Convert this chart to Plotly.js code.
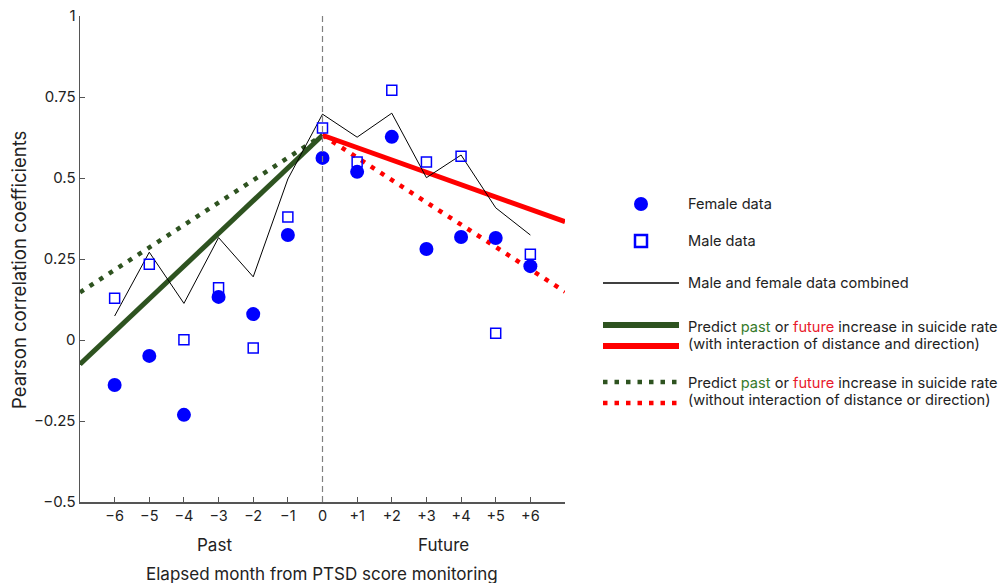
<!DOCTYPE html>
<html>
<head>
<meta charset="utf-8">
<script src="https://cdn.plot.ly/plotly-3.0.1.min.js"></script>
<style>html,body{margin:0;padding:0;background:#fff;}#chart{width:1000px;height:583px;}</style>
</head>
<body>
<div id="chart"></div>
<script>
// ---- data ----
var months = [-6, -5, -4, -3, -2, -1, 0, 1, 2, 3, 4, 5, 6];
var femaleData = [-0.139, -0.049, -0.231, 0.133, 0.080, 0.324, 0.562, 0.519, 0.627, 0.281, 0.318, 0.315, 0.228];
var maleData = [0.129, 0.234, 0.001, 0.161, -0.025, 0.380, 0.654, 0.549, 0.771, 0.549, 0.567, 0.021, 0.265];
var combinedData = [0.074, 0.271, 0.113, 0.316, 0.195, 0.497, 0.697, 0.626, 0.700, 0.501, 0.571, 0.408, 0.324];
var pastX = [-7, 0];
var futureX = [0, 7];
var pastWith = [-0.075, 0.632];
var futureWith = [0.632, 0.365];
var pastWithout = [0.147, 0.632];
var futureWithout = [0.632, 0.149];
var xTickVals = [-6, -5, -4, -3, -2, -1, 0, 1, 2, 3, 4, 5, 6, 7];
var xTickText = ['\u22126', '\u22125', '\u22124', '\u22123', '\u22122', '\u22121', '0', '+1', '+2', '+3', '+4', '+5', '+6', ''];
var yTickVals = [-0.5, -0.25, 0, 0.25, 0.5, 0.75, 1];
var yTickText = ['\u22120.5', '\u22120.25', '0', '0.25', '0.5', '0.75', '1'];

// ---- styles ----
var GREEN = '#2e5320';
var RED = '#ff0000';
var BLUE = '#0000ff';
var TEXT = '#222222';
var FONT = 'Inter, Roboto, "Noto Sans", sans-serif';
var DOT = '4.5px,7px';

// plot area in pixels
var L = 80, R = 565, T = 16, B = 502, W = 1000, H = 583;
function px(x) { return (x - L) / (R - L); }
function py(y) { return (B - y) / (B - T); }

var traces = [
  {x: pastX, y: pastWithout, mode: 'lines', line: {color: GREEN, width: 4.5, dash: DOT}},
  {x: futureX, y: futureWithout, mode: 'lines', line: {color: RED, width: 4.5, dash: DOT}},
  {x: pastX, y: pastWith, mode: 'lines', line: {color: GREEN, width: 5}},
  {x: futureX, y: futureWith, mode: 'lines', line: {color: RED, width: 5}},
  {x: months, y: combinedData, mode: 'lines', line: {color: '#000000', width: 1}},
  {x: months, y: maleData, mode: 'markers', marker: {symbol: 'square-open', size: 10, color: BLUE, line: {width: 1.5, color: BLUE}}},
  {x: months, y: femaleData, mode: 'markers', marker: {symbol: 'circle', size: 14, color: BLUE}}
];

var shapes = [
  {type: 'line', xref: 'x', yref: 'paper', x0: 0, x1: 0, y0: 0, y1: 1, line: {color: '#808080', width: 1.2, dash: '6px,4px'}},
  // legend symbols
  {type: 'circle', xref: 'paper', yref: 'paper', x0: px(634), x1: px(648), y0: py(211), y1: py(197), fillcolor: BLUE, line: {width: 0}},
  {type: 'rect', xref: 'paper', yref: 'paper', x0: px(635), x1: px(647), y0: py(247), y1: py(235), fillcolor: 'white', line: {width: 2.5, color: BLUE}},
  {type: 'line', xref: 'paper', yref: 'paper', x0: px(603), x1: px(679), y0: py(283), y1: py(283), line: {color: '#000', width: 1.5}},
  {type: 'line', xref: 'paper', yref: 'paper', x0: px(603), x1: px(679), y0: py(325), y1: py(325), line: {color: GREEN, width: 6}},
  {type: 'line', xref: 'paper', yref: 'paper', x0: px(603), x1: px(679), y0: py(346), y1: py(346), line: {color: RED, width: 6}},
  {type: 'line', xref: 'paper', yref: 'paper', x0: px(603), x1: px(679), y0: py(382), y1: py(382), line: {color: GREEN, width: 4.5, dash: DOT}},
  {type: 'line', xref: 'paper', yref: 'paper', x0: px(603), x1: px(679), y0: py(403), y1: py(403), line: {color: RED, width: 4.5, dash: DOT}}
];

function ann(text, x, y, opts) {
  var a = {text: text, xref: 'paper', yref: 'paper', x: px(x), y: py(y), showarrow: false,
    xanchor: 'left', yanchor: 'middle', font: {family: FONT, size: 14.6, color: TEXT}};
  for (var k in (opts || {})) a[k] = opts[k];
  return a;
}
var pastW = '<span style="color:#357a2a">past</span>';
var futW = '<span style="color:#e8192c">future</span>';
var annotations = [
  ann('Female data', 686, 204),
  ann('Male data', 686, 241),
  ann('Male and female data combined', 686, 283),
  ann('Predict ' + pastW + ' or ' + futW + ' increase in suicide rate', 686, 327),
  ann('(with interaction of distance and direction)', 686, 344),
  ann('Predict ' + pastW + ' or ' + futW + ' increase in suicide rate', 686, 383),
  ann('(without interaction of distance or direction)', 686, 400),
  ann('Past', 214, 545, {xanchor: 'center', font: {family: FONT, size: 17, color: TEXT}}),
  ann('Future', 443, 545, {xanchor: 'center', font: {family: FONT, size: 17, color: TEXT}}),
  ann('Elapsed month from PTSD score monitoring', 322, 574, {xanchor: 'center', font: {family: FONT, size: 17, color: TEXT}}),
  ann('Pearson correlation coefficients', 19, 270, {xanchor: 'center', textangle: -90, font: {family: FONT, size: 18.5, color: TEXT}})
];

var layout = {
  width: W, height: H,
  margin: {l: L, r: W - R, t: T, b: H - B, pad: 0},
  paper_bgcolor: '#ffffff', plot_bgcolor: '#ffffff',
  showlegend: false,
  font: {family: FONT, size: 14, color: TEXT},
  xaxis: {range: [-7, 7], tickvals: xTickVals, ticktext: xTickText, ticks: 'inside', ticklen: 5, tickwidth: 1,
    tickcolor: '#555', showline: true, linecolor: '#555', linewidth: 1.5, showgrid: false, zeroline: false,
    tickfont: {family: FONT, size: 14.5, color: TEXT}},
  yaxis: {range: [-0.5, 1], tickvals: yTickVals, ticktext: yTickText, ticks: 'inside', ticklen: 5, tickwidth: 1,
    tickcolor: '#555', showline: true, linecolor: '#555', linewidth: 1.5, showgrid: false, zeroline: false,
    tickfont: {family: FONT, size: 15, color: TEXT}},
  shapes: shapes,
  annotations: annotations
};

Plotly.newPlot('chart', traces, layout, {staticPlot: true, displayModeBar: false});
</script>
</body>
</html>
